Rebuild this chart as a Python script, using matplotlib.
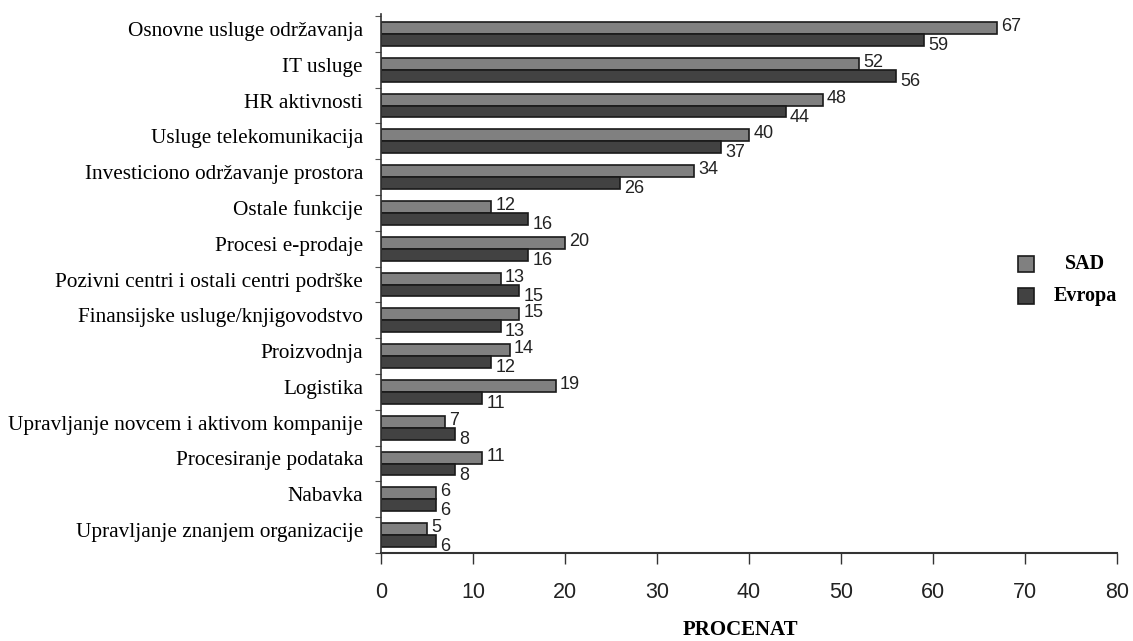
import matplotlib
matplotlib.use("Agg")
import matplotlib.pyplot as plt
from matplotlib.patches import Rectangle
import numpy as np

categories = [
    "Osnovne usluge održavanja",
    "IT usluge",
    "HR aktivnosti",
    "Usluge telekomunikacija",
    "Investiciono održavanje prostora",
    "Ostale funkcije",
    "Procesi e-prodaje",
    "Pozivni centri i ostali centri podrške",
    "Finansijske usluge/knjigovodstvo",
    "Proizvodnja",
    "Logistika",
    "Upravljanje novcem i aktivom kompanije",
    "Procesiranje podataka",
    "Nabavka",
    "Upravljanje znanjem organizacije",
]
sad = [67, 52, 48, 40, 34, 12, 20, 13, 15, 14, 19, 7, 11, 6, 5]
evropa = [59, 56, 44, 37, 26, 16, 16, 15, 13, 12, 11, 8, 8, 6, 6]
series_names = ["SAD", "Evropa"]
xticks = [0, 10, 20, 30, 40, 50, 60, 70, 80]

c_sad = "#808080"
c_evr = "#424242"
edge = "#1a1a1a"

fig = plt.figure(figsize=(11.33, 6.41), dpi=100)
ax = fig.add_axes([381/1133, 1-553/641, (1117-381)/1133, (553-14)/641])

n = len(categories)
y = np.arange(n)
h = 0.334
ax.barh(y - h/2, sad, height=h, color=c_sad, edgecolor=edge, linewidth=1.2)
ax.barh(y + h/2, evropa, height=h, color=c_evr, edgecolor=edge, linewidth=1.2)

for i in range(n):
    ax.annotate(str(sad[i]), (sad[i], y[i] - h/2), xytext=(3, 1), textcoords="offset points",
                ha="left", va="center", fontsize=13, color="#222222", family="Liberation Sans")
    ax.annotate(str(evropa[i]), (evropa[i], y[i] + h/2), xytext=(3, -4), textcoords="offset points",
                ha="left", va="center", fontsize=13, color="#222222", family="Liberation Sans")

ax.set_xlim(0, 80)
ax.set_ylim(n - 0.555, -0.557)
ax.set_xticks(xticks)
ax.set_xticklabels([str(t) for t in xticks], fontsize=15.5, family="Liberation Sans", color="#222222")
ax.tick_params(axis="x", length=8, width=1, pad=13, color="#333333")

ax.set_yticks(y - 0.14)
ax.set_yticklabels(categories, fontsize=15.3, family="Liberation Serif")
ax.tick_params(axis="y", which="major", length=0, pad=13)
ax.set_yticks(np.arange(n + 1) - 0.5, minor=True)
ax.tick_params(axis="y", which="minor", length=4, width=0.8, color="#555555")

for s in ["top", "right"]:
    ax.spines[s].set_visible(False)
ax.spines["left"].set_linewidth(1.2)
ax.spines["bottom"].set_linewidth(1.5)
ax.spines["left"].set_color("#333333")
ax.spines["bottom"].set_color("#333333")

fig.text(740/1133, 1-630/641, "PROCENAT", ha="center", va="center", fontsize=15,
         fontweight="bold", family="Liberation Serif")

# legend
for (yy, col, name) in [(264, c_sad, series_names[0]), (296, c_evr, series_names[1])]:
    fig.patches.append(Rectangle((1018/1133, 1-(yy+8)/641), 16/1133, 16/641,
                                 transform=fig.transFigure, facecolor=col, edgecolor=edge, linewidth=1.2))
    fig.text(1085/1133, 1-yy/641, name, ha="center", va="center", fontsize=14.5,
             fontweight="bold", family="Liberation Serif")

fig.savefig("out.png", dpi=100)
